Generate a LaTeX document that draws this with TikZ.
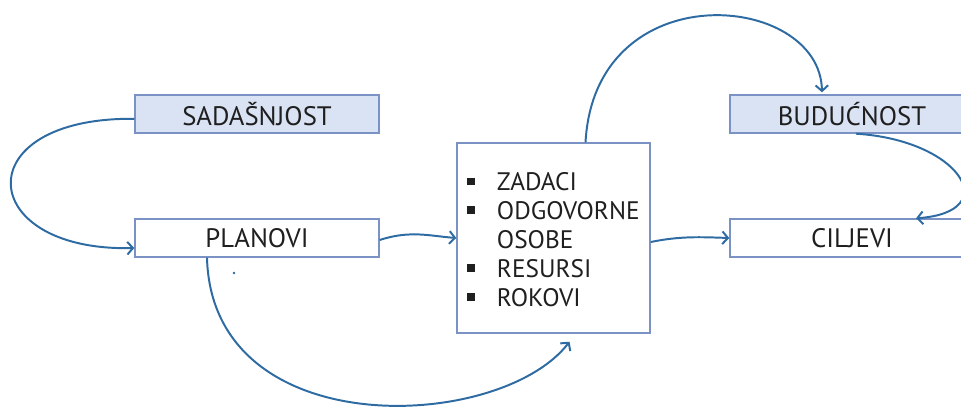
\documentclass[tikz,border=0pt]{standalone}
\usepackage{fontspec}
\setmainfont{PT Sans}
\usepackage{tikz}
\usetikzlibrary{arrows.meta}

\definecolor{arrowblue}{HTML}{2E6BA3}
\definecolor{boxline}{HTML}{7A93C4}
\definecolor{boxfill}{HTML}{DAE3F3}
\definecolor{txt}{HTML}{1F1F1F}
\newcommand{\sqbul}{\rule[0.22em]{0.3em}{0.3em}}

\begin{document}
\begin{tikzpicture}[x=0.025cm, y=-0.025cm,
    box/.style={draw=boxline, line width=1pt, minimum width=6.1cm, minimum height=0.95cm,
        inner sep=0pt, text=txt, font=\fontsize{19}{22}\selectfont},
    timebox/.style={box, fill=boxfill},
    listbox/.style={draw=boxline, line width=1pt, minimum width=4.825cm, minimum height=4.75cm,
        inner sep=0pt, text=txt, font=\fontsize{18}{20.6}\selectfont},
    conn/.style={draw=arrowblue, line width=1.4pt, -{Straight Barb[length=4pt, width=9pt]}}]
    \useasboundingbox (0,0) rectangle (961,408);
    \clip (0,0) rectangle (961,408);
    \node[timebox] (now) at (257,114) {SADAŠNJOST};
    \node[box] (plans) at (257,238) {PLANOVI};
    \node[listbox] (tasks) at (553.5,238) {%
        \raisebox{-0.12cm}[\height][\depth]{\begin{tabular}{@{}l@{\hspace{0.55cm}}l@{}}
        \sqbul & ZADACI\\
        \sqbul & ODGOVORNE\\
               & OSOBE\\
        \sqbul & RESURSI\\
        \sqbul & ROKOVI
        \end{tabular}}};
    \node[timebox] (future) at (852,114) {BUDUĆNOST};
    \node[box] (goals) at (852,238) {CILJEVI};
    \draw[conn] ([yshift=-0.12cm]now.west) .. controls (-35,117) and (-25,252) .. ([yshift=-0.25cm]plans.west);
    \draw[conn] ([yshift=-0.05cm]plans.east) .. controls (410,230) and (430,236) .. (tasks.west);
    \draw[conn] ([xshift=-1.25cm]plans.south) .. controls (212,445) and (500,432) .. ([xshift=0.4cm, yshift=-0.2cm]tasks.south);
    \draw[conn] ([xshift=0.8cm]tasks.north) .. controls (595,-28) and (820,-8) .. ([xshift=-0.75cm, yshift=0.05cm]future.north);
    \draw[conn] ([xshift=0.1cm]future.south) .. controls (960,140) and (1005,212) .. ([xshift=1.6cm]goals.north);
    \draw[conn] ([yshift=-0.1cm]tasks.east) .. controls (680,236) and (700,237) .. (goals.west);
    \fill[arrowblue] (234,273) circle (0.9pt);
\end{tikzpicture}
\end{document}
